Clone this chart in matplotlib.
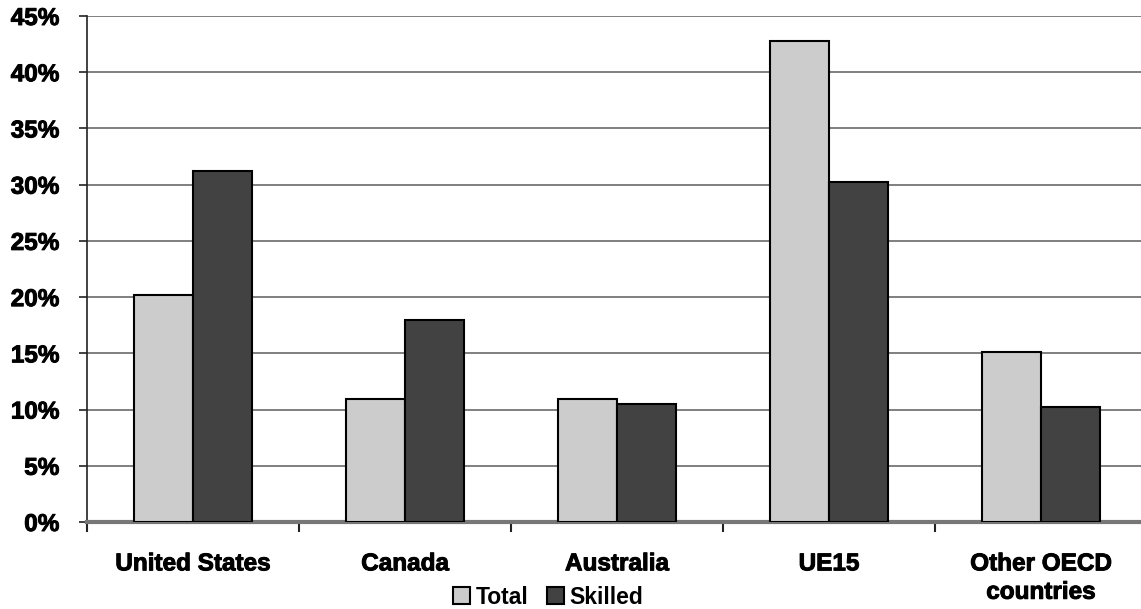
import matplotlib
matplotlib.use("Agg")
import matplotlib.pyplot as plt
import matplotlib.patheffects as pe
import numpy as np
from matplotlib.ticker import FuncFormatter, MultipleLocator

categories = ["United States", "Canada", "Australia", "UE15", "Other OECD\ncountries"]
total = [20.2, 10.9, 10.9, 42.8, 15.1]
skilled = [31.2, 18.0, 10.5, 30.2, 10.2]
series_names = ["Total", "Skilled"]

plt.rcParams["font.family"] = ["Liberation Sans", "DejaVu Sans"]
plt.rcParams["font.weight"] = "bold"

heavy = [pe.withStroke(linewidth=0.7, foreground="black")]

fig = plt.figure(figsize=(11.41, 6.09), dpi=100)
ax = fig.add_axes([87 / 1141, 1 - 522 / 609, 1060 / 1141, 506 / 609])

x = np.arange(len(categories))
w = 0.28
ax.bar(x - w / 2, total, w, color="#cccccc", edgecolor="black", linewidth=1.5,
       label=series_names[0], zorder=3)
ax.bar(x + w / 2, skilled, w, color="#424242", edgecolor="black", linewidth=1.5,
       label=series_names[1], zorder=3)

ax.set_xlim(-0.5, len(categories) - 0.5)
ax.set_ylim(0, 45)
ax.yaxis.set_major_locator(MultipleLocator(5))
ax.yaxis.set_major_formatter(FuncFormatter(lambda v, p: f"{v:.0f}%"))
ax.yaxis.grid(True, color="#6a6a6a", linewidth=1.2, zorder=0)
ax.set_axisbelow(True)

for s in ["top", "right"]:
    ax.spines[s].set_visible(False)
ax.spines["left"].set_color("#222222")
ax.spines["left"].set_linewidth(1.2)
ax.spines["bottom"].set_color("#777777")
ax.spines["bottom"].set_linewidth(3)

ax.tick_params(axis="y", direction="out", length=6, width=1.2, color="#222222",
               labelsize=17.5, pad=14)
for t in ax.get_yticklabels():
    t.set_path_effects(heavy)

# category boundary ticks on the x axis
ax.set_xticks(np.arange(-0.5, len(categories), 1.0))
ax.set_xticklabels([])
ax.tick_params(axis="x", direction="out", length=7, width=1.5, color="#222222")
for xi, lab in zip(x, categories):
    ax.text(xi, -2.7, lab, ha="center", va="top", fontsize=17.5, fontweight="bold",
            linespacing=1.3, clip_on=False, path_effects=heavy)

leg = fig.legend(loc="center", bbox_to_anchor=(548 / 1141, 1 - 597 / 609),
                 ncol=2, frameon=False, fontsize=16.5, handlelength=0.75,
                 handleheight=0.75, handletextpad=0.25, columnspacing=0.8,
                 borderpad=0.1)
for t in leg.get_texts():
    t.set_fontweight("bold")

fig.savefig("out.png", dpi=100)
